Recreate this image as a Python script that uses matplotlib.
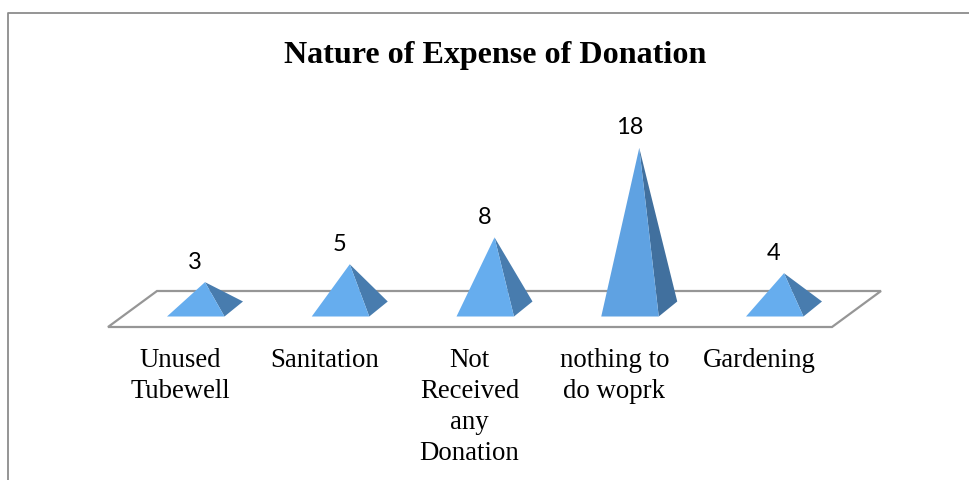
import numpy as np
import matplotlib
matplotlib.use("Agg")
import matplotlib.pyplot as plt
from matplotlib.patches import Polygon

categories = ["Unused\nTubewell", "Sanitation", "Not\nReceived\nany\nDonation", "nothing to\ndo woprk", "Gardening"]
values = [3, 5, 8, 18, 4]
title = "Nature of Expense of Donation"

W, H = 969, 480
# pixel layout of the 3d floor
x0, dx = 205.0, 144.75      # apex x of first pyramid, spacing
y0, dy = 309.0, 8.95        # floor centre y, pixels per unit

fig = plt.figure(figsize=(W / 100, H / 100), dpi=100)
ax = fig.add_axes([0, 0, 1, 1])
ax.set_xlim((0 - x0) / dx, (W - x0) / dx)
ax.set_ylim((y0 - H) / dy, y0 / dy)
ax.axis("off")

# half base and depth, in data units
hw = 28.75 / dx
ox, oy = 9.25 / dx, 7.5 / dy
px, py = 1 / dx, 1 / dy

# floor
floor = [(-97 * px, -18 * py), (627 * px, -18 * py), (676 * px, 18 * py), (-48 * px, 18 * py)]
ax.add_patch(Polygon(floor, closed=True, fc="white", ec="#969696", lw=1.6, zorder=1))

for i, v in enumerate(values):
    fl = (i - ox - hw, -oy)
    fr = (i - ox + hw, -oy)
    br = (i + ox + hw, oy)
    apex = (i, v)
    ax.add_patch(Polygon([fr, br, apex], closed=True, fc="#487CAE" if v < 18 else "#41709E", ec="none", zorder=2))
    ax.add_patch(Polygon([fl, fr, apex], closed=True, fc="#66ADEE" if v < 18 else "#5FA2E2", ec="none", zorder=3))
    ax.text(i - 10 * px, v + 22 * py, str(v), ha="center", va="center_baseline", fontsize=17,
            family="Lato", color="black", zorder=4)

for i, lab in enumerate(categories):
    ax.text(i - 25 * px, -39 * py, lab, ha="center", va="top", fontsize=19.3,
            family="Liberation Serif", color="black", linespacing=1.31)

# chart frame: right and bottom edges fall outside the picture
ax.plot([(7.5 - x0) / dx, (7.5 - x0) / dx, (W - x0) / dx],
        [(y0 - H) / dy, (y0 - 12.5) / dy, (y0 - 12.5) / dy], color="#8c8c8c", lw=1.3, zorder=1)

ax.text((495.5 - x0) / dx, (y0 - 56) / dy, title, ha="center", va="center", fontsize=23.1,
        fontweight="bold", family="Liberation Serif", color="black")

fig.savefig("out.png", dpi=100)
